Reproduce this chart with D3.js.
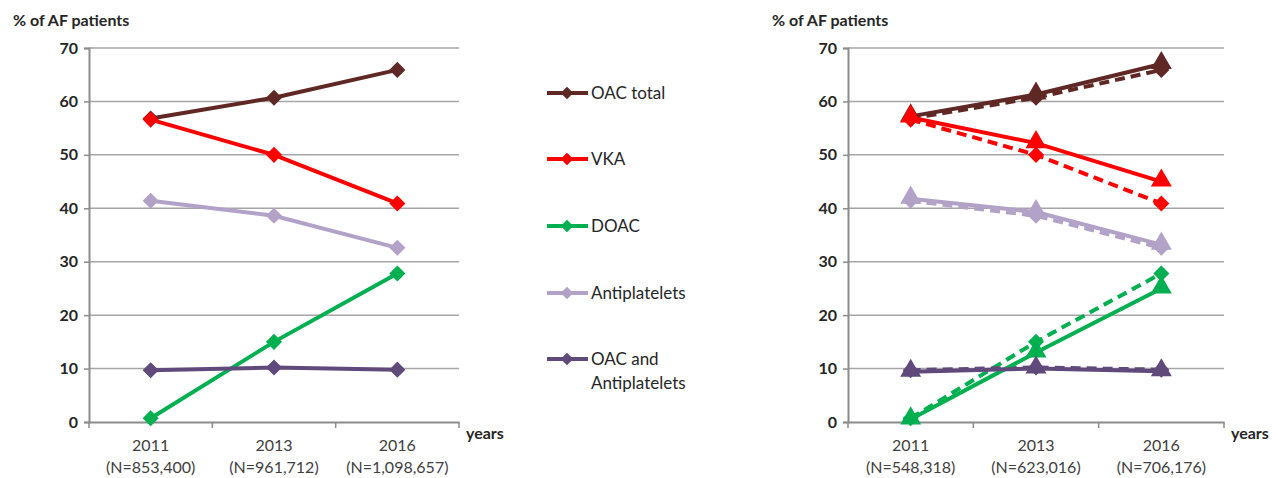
<!DOCTYPE html>
<html>
<head>
<meta charset="utf-8">
<script src="https://cdn.jsdelivr.net/npm/d3@7"></script>
<style>
  body { margin: 0; background: #fff; }
  text { font-family: Lato, "Open Sans", sans-serif; }
</style>
</head>
<body>
<div class="canva"></div>
<script>
// data
const years = ["2011", "2013", "2016"];
const leftN = ["(N=853,400)", "(N=961,712)", "(N=1,098,657)"];
const rightN = ["(N=548,318)", "(N=623,016)", "(N=706,176)"];
const seriesNames = ["OAC total", "VKA", "DOAC", "Antiplatelets", "OAC and Antiplatelets"];
const seriesColors = ["#5f2825", "#ff0000", "#00b050", "#b3a2c7", "#604a7b"];
const yTicks = [0, 10, 20, 30, 40, 50, 60, 70];

// left panel (also dashed series on right)
const oacTotal = [56.8, 60.7, 65.9];
const vka = [56.6, 50.0, 40.9];
const doac = [0.7, 15.0, 27.8];
const antiplatelets = [41.4, 38.6, 32.6];
const oacAndAp = [9.7, 10.2, 9.8];

// right panel solid (triangle) series
const oacTotal2 = [57.2, 61.3, 67.0];
const vka2 = [57.0, 52.2, 45.0];
const doac2 = [0.5, 13.0, 25.0];
const antiplatelets2 = [41.8, 39.3, 33.2];
const oacAndAp2 = [9.4, 10.0, 9.5];

const leftSeries = [oacTotal, vka, doac, antiplatelets, oacAndAp];
const rightSeries = [oacTotal2, vka2, doac2, antiplatelets2, oacAndAp2];

const svg = d3.select(".canva").append("svg")
  .attr("width", 1272)
  .attr("height", 478);

const diamond = d3.symbol().type(d3.symbolDiamond2).size(165);
const triangle = d3.symbol().type(d3.symbolTriangle).size(190);

function drawPanel(x0, x1, nLabels, layers) {
  const y = d3.scaleLinear().domain([0, 70]).range([422, 48]);
  const x = d3.scaleBand().domain(years).range([x0, x1]);
  const g = svg.append("g");

  // gridlines
  g.selectAll(".grid").data(yTicks.slice(1)).enter()
    .append("line")
    .attr("x1", x0).attr("x2", x1)
    .attr("y1", d => y(d)).attr("y2", d => y(d))
    .attr("stroke", "#a6a6a6").attr("stroke-width", 1.5);

  // y axis
  const yAxis = g.append("g")
    .attr("transform", `translate(${x0},0)`)
    .call(d3.axisLeft(y).tickValues(yTicks).tickSize(5).tickPadding(6));
  yAxis.select(".domain").attr("stroke", "#8c8c8c").attr("stroke-width", 2);
  yAxis.selectAll(".tick line").attr("stroke", "#8c8c8c").attr("stroke-width", 1.5);
  yAxis.selectAll(".tick text")
    .attr("font-size", 16).attr("font-weight", "bold").attr("fill", "#262626");

  // x axis
  const xAxis = g.append("g")
    .attr("transform", `translate(0,${y(0)})`)
    .call(d3.axisBottom(x).tickSize(0).tickFormat(""));
  xAxis.select(".domain").attr("stroke", "#8c8c8c").attr("stroke-width", 2);
  const bounds = [x0].concat(years.map(d => x(d) + x.bandwidth()));
  g.selectAll(".xt").data(bounds).enter()
    .append("line")
    .attr("x1", d => d).attr("x2", d => d)
    .attr("y1", y(0)).attr("y2", y(0) + 6)
    .attr("stroke", "#8c8c8c").attr("stroke-width", 1.5);

  const cx = d => x(d) + x.bandwidth() / 2;
  g.selectAll(".yr").data(years).enter()
    .append("text")
    .attr("x", cx).attr("y", 451)
    .attr("text-anchor", "middle")
    .attr("font-size", 16).attr("fill", "#404040")
    .text(d => d);
  g.selectAll(".nl").data(nLabels).enter()
    .append("text")
    .attr("x", (d, i) => cx(years[i])).attr("y", 473)
    .attr("text-anchor", "middle")
    .attr("font-size", 16).attr("fill", "#404040")
    .text(d => d);

  g.append("text")
    .attr("x", x1 + 7).attr("y", 439)
    .attr("font-size", 16).attr("font-weight", "bold").attr("fill", "#262626")
    .text("years");
  g.append("text")
    .attr("x", x0 - 76).attr("y", 26)
    .attr("font-size", 16).attr("font-weight", "bold").attr("fill", "#262626")
    .text("% of AF patients");

  const line = d3.line().x((d, i) => cx(years[i])).y(d => y(d));

  layers.forEach(layer => {
    layer.series.forEach((vals, s) => {
      g.append("path")
        .attr("d", line(vals))
        .attr("fill", "none")
        .attr("stroke", seriesColors[s])
        .attr("stroke-width", 4)
        .attr("stroke-dasharray", layer.dashed ? "10,6" : null);
      g.selectAll(null).data(vals).enter()
        .append("path")
        .attr("d", layer.symbol)
        .attr("transform", (d, i) => `translate(${cx(years[i])},${y(d) + (layer.symbol === triangle ? -1 : 0)})`)
        .attr("fill", seriesColors[s]);
    });
  });
}

drawPanel(89, 459, leftN, [{ series: leftSeries, dashed: false, symbol: diamond }]);
drawPanel(848, 1224, rightN, [
  { series: leftSeries, dashed: true, symbol: diamond },
  { series: rightSeries, dashed: false, symbol: triangle }
]);

// legend
const legendY = [93, 159, 226, 293, 359];
const legend = svg.append("g");
seriesNames.forEach((name, i) => {
  const row = legend.append("g").attr("transform", `translate(0,${legendY[i]})`);
  row.append("line")
    .attr("x1", 547).attr("x2", 588)
    .attr("stroke", seriesColors[i]).attr("stroke-width", 4);
  row.append("path")
    .attr("d", d3.symbol().type(d3.symbolDiamond2).size(100))
    .attr("transform", "translate(567,0)")
    .attr("fill", seriesColors[i]);
  const t = row.append("text")
    .attr("x", 591).attr("y", 6)
    .attr("font-size", 17).attr("fill", "#262626");
  if (name === "OAC and Antiplatelets") {
    t.append("tspan").attr("x", 591).text("OAC and");
    t.append("tspan").attr("x", 591).attr("dy", 24).text("Antiplatelets");
  } else {
    t.text(name);
  }
});
</script>
</body>
</html>
